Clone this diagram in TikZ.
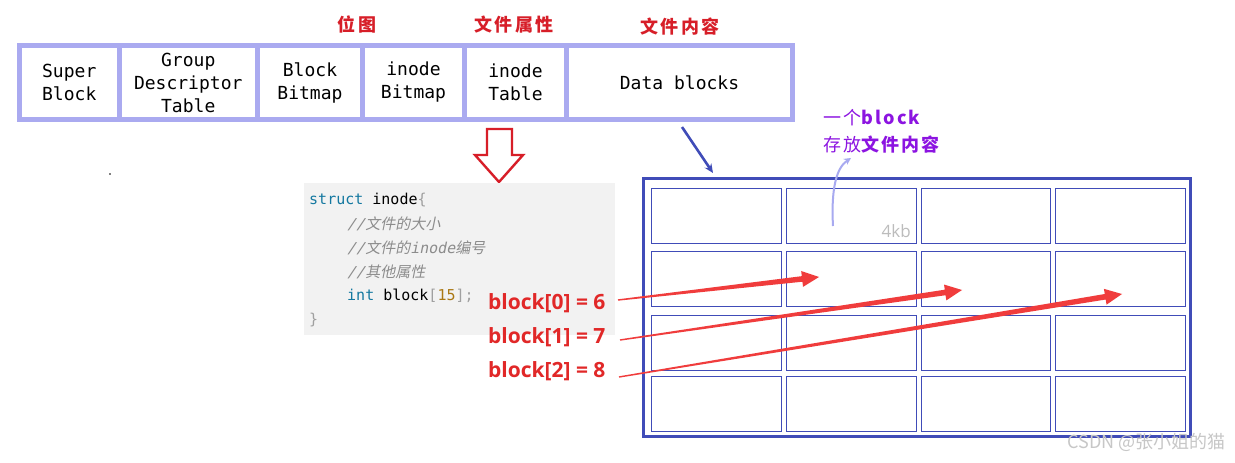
\documentclass[tikz,border=0pt]{standalone}
\usepackage{fontspec}
\usetikzlibrary{calc,arrows.meta}
\newfontfamily\mono{DejaVu Sans Mono}
\newfontfamily\monoit[FakeSlant=0.2]{DejaVu Sans Mono}
\newfontfamily\cjk{Noto Sans CJK SC}
\newfontfamily\cjksp[LetterSpace=12]{Noto Sans CJK SC}
\newfontfamily\cjkit[FakeSlant=0.2]{Noto Sans CJK SC}
\newfontfamily\lab{Open Sans}
\definecolor{boxc}{RGB}{170,170,240}
\definecolor{gridc}{RGB}{64,76,184}
\definecolor{redl}{RGB}{215,30,40}
\definecolor{arrred}{RGB}{240,60,60}
\definecolor{labred}{RGB}{225,40,40}
\definecolor{purp}{RGB}{140,20,225}
\definecolor{lpurp}{RGB}{168,170,240}
\definecolor{codebg}{RGB}{242,242,242}
\definecolor{kw}{RGB}{20,120,160}
\definecolor{num}{RGB}{170,120,20}
\definecolor{cm}{RGB}{140,140,140}
\definecolor{gr}{RGB}{160,160,160}
\newcommand\mytaper[2]{%
  \coordinate (hh) at ($(#2)!17pt!(#1)$);
  \fill[arrred] ($(#1)!0.7pt!90:(#2)$) -- ($(hh)!2.8pt!90:(#2)$) -- ($(hh)!8pt!90:(#2)$) -- (#2)
    -- ($(hh)!8pt!-90:(#2)$) -- ($(hh)!2.8pt!-90:(#2)$) -- ($(#1)!0.7pt!-90:(#2)$) -- cycle;}
\tikzset{
  barcell/.style={draw=boxc, line width=5pt, inner sep=0pt, align=center,
    font=\mono\fontsize{18}{23}\selectfont},
  toplab/.style={text=redl, font=\cjksp\bfseries\fontsize{18}{20}\selectfont, inner sep=0pt},
  gcell/.style={draw=gridc, line width=1pt, inner sep=0pt},
  codel/.style={anchor=west, inner sep=0pt, font=\mono\fontsize{15}{18}\selectfont},
  blab/.style={anchor=west, inner sep=0pt, text=labred, font=\lab\bfseries\fontsize{21}{24}\selectfont},
  plab/.style={anchor=west, inner sep=0pt, text=purp, font=\cjksp\fontsize{18}{20}\selectfont},
}
\begin{document}
\begin{tikzpicture}[x=1pt,y=-1pt]
\useasboundingbox (0,0) rectangle (1235,463);
\fill[white] (0,0) rectangle (1235,463);
% top labels
\node[toplab] (lw) at (357,24) {位图};
\node[toplab] (la) at (514,25) {文件属性};
\node[toplab] (lc) at (680,27) {文件内容};
% top bar
\node[barcell, minimum width=99.5, minimum height=74] (sb) at (69.25,82.5) {Super\\Block};
\node[barcell, minimum width=138.5, minimum height=74] (gdt) at (188.25,82.5) {Group\\Descriptor\\Table};
\node[barcell, minimum width=105, minimum height=74] (bb) at (310,82.5) {Block\\Bitmap};
\node[barcell, minimum width=102, minimum height=74] (ib) at (413.5,82.5) {inode\\Bitmap};
\node[barcell, minimum width=102, minimum height=74] (it) at (515.5,82.5) {inode\\Table};
\node[barcell, minimum width=226, minimum height=74] (db) at (679.5,82.5) {Data blocks};
% dot
\fill[black] (110,174) circle (0.9);
% hollow red arrow
\draw[redl, line width=2.4pt, fill=white, line join=miter]
  (487,129) -- (512,129) -- (512,155) -- (523,155) -- (499,182) -- (475,155) -- (487,155) -- cycle;
% code block
\fill[codebg] (304,183) rectangle (615,335);
\node[codel] (l1) at (309,200) {{\color{kw}struct} inode{\color{gr}\{}};
\node[codel, text=cm] (l2) at (347,224) {{\monoit //}{\cjkit 文件的大小}};
\node[codel, text=cm] (l3) at (347,248) {{\monoit //}{\cjkit 文件的}{\monoit inode}{\cjkit 编号}};
\node[codel, text=cm] (l4) at (347,272) {{\monoit //}{\cjkit 其他属性}};
\node[codel] (l5) at (347,296) {{\color{kw}int} block{\color{gr}[}{\color{num}15}{\color{gr}];}};
\node[codel, text=gr] (l6) at (309,320) {\}};
% grid
\node[draw=gridc, line width=3pt, minimum width=547, minimum height=258.5, inner sep=0pt] (grid) at (917,307.25) {};
\foreach \r/\ya/\yb in {1/188/243, 2/251/306, 3/315/370, 4/376/431}{
  \foreach \c/\xa/\xb in {1/651/781, 2/786/916, 3/921/1050, 4/1055/1185}{
    \node[gcell, minimum width={\xb-\xa}, minimum height={\yb-\ya}] (c\r\c) at ({(\xa+\xb)/2},{(\ya+\yb)/2}) {};
  }
}
\node[anchor=east, inner sep=0pt, text=gr!70, font=\lab\fontsize{17}{20}\selectfont] (kb) at (911,231) {4kb};
% purple note
\node[plab] (p1) at (823,118) {一个{\bfseries block}};
\node[plab] (p2) at (823,145) {存放{\bfseries 文件内容}};
\coordinate (pc) at (833,226);
\coordinate (pt) at (851,158);
\draw[lpurp, line width=2pt, -{Stealth[length=7pt,width=7pt]}] (pc) .. controls (831,190) and (836,168) .. (pt);
% blue arrow
\coordinate (ba) at (682,127);
\coordinate (bt) at (713,173);
\draw[gridc, line width=2.6pt, -{Stealth[length=9pt,width=8pt]}] (ba) -- (bt);
% labels
\node[blab] (b0) at (488,303) {block[0] = 6};
\node[blab] (b1) at (488,337) {block[1] = 7};
\node[blab] (b2) at (488,371) {block[2] = 8};
\coordinate (t0) at (618,300);
\coordinate (t1) at (620,340);
\coordinate (t2) at (619,377);
\coordinate (e0) at (819,277);
\coordinate (e1) at (962,290);
\coordinate (e2) at (1122,294);
\mytaper{t0}{e0}
\mytaper{t1}{e1}
\mytaper{t2}{e2}
% watermark
\node[anchor=east, inner sep=0pt, text=black!22, font=\cjk\fontsize{18}{20}\selectfont] (wm) at (1226,442) {CSDN @张小姐的猫};
\end{tikzpicture}
\end{document}
